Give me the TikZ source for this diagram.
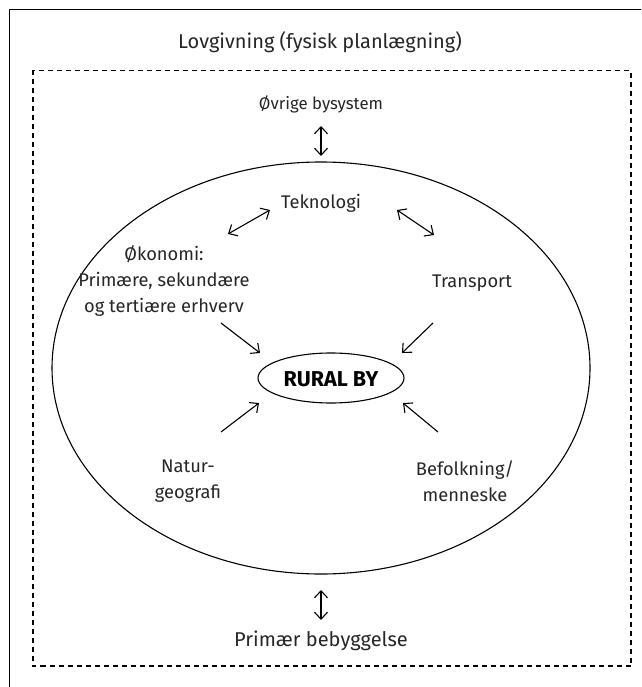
\documentclass[tikz,border=0pt]{standalone}
\usepackage{fontspec}
\setmainfont{Fira Sans}
\usetikzlibrary{arrows.meta,shapes.geometric}
\begin{document}
\begin{tikzpicture}[x=1pt,y=-1pt,
  every node/.style={inner sep=0pt, text=black!85, font=\fontsize{18.3}{26}\selectfont, align=center},
  big/.style={font=\fontsize{20}{24}\selectfont},
  mid/.style={font=\fontsize{16.8}{22}\selectfont},
  link/.style={line width=1.1pt, -{Straight Barb[length=7pt,width=13pt,line width=1.1pt]}},
  link2/.style={line width=1.1pt, {Straight Barb[length=7pt,width=13pt,line width=1.1pt]}-{Straight Barb[length=7pt,width=13pt,line width=1.1pt]}},
  frame/.style={line width=1.3pt},
  dframe/.style={line width=1.2pt, dash pattern=on 5pt off 4pt},
  ell/.style={draw, line width=1.1pt, ellipse, outer sep=0pt}]
\useasboundingbox (0,0) rectangle (641,687);
\begin{scope}
\clip (0,0) rectangle (641,687);
\draw[frame] (9.5,9.5) rectangle (680,720);
\end{scope}
\draw[dframe] (33,70.5) rectangle (631,666);

\node[big] (title) at (320,42) {Lovgivning (fysisk planlægning)};
\node[mid] (ovrige) at (321,104) {Øvrige bysystem};
\node[big] (primaer) at (321,641) {Primær bebyggelse};

\node[ell, minimum width=538pt, minimum height=412pt] (outerell) at (321,368) {};

\node[ell, minimum width=146pt, minimum height=50pt] (rural) at (331,378) {};
\node[font=\fontsize{21.5}{24}\selectfont\bfseries, text=black] (ruraltext) at (331,379) {RURAL BY};

\node (tek) at (321,203) {Teknologi};
\node (oko) at (164,281) {Økonomi:\\Primære, sekundære\\og tertiære erhverv};
\node (trans) at (472,283) {Transport};
\node (natur) at (188,481) {Natur-\\geografi};
\node (befolk) at (465,481) {Befolkning/\\menneske};

\coordinate (vt1) at (321,126);
\coordinate (vt2) at (321,156);
\coordinate (vb1) at (321,590);
\coordinate (vb2) at (321,620);
\draw[link2] (vt1) -- (vt2);
\draw[link2] (vb1) -- (vb2);

\coordinate (tl1) at (228,234);
\coordinate (tl2) at (270,210);
\coordinate (tr1) at (397,210);
\coordinate (tr2) at (434,235);
\draw[link2] (tl1) -- (tl2);
\draw[link2] (tr1) -- (tr2);

\coordinate (o1) at (221,323);
\coordinate (o2) at (260,353);
\coordinate (t1) at (433,323);
\coordinate (t2) at (402,353);
\coordinate (n1) at (221,432);
\coordinate (n2) at (259,403);
\coordinate (b1) at (438,432);
\coordinate (b2) at (403,403);
\draw[link] (o1) -- (o2);
\draw[link] (t1) -- (t2);
\draw[link] (n1) -- (n2);
\draw[link] (b1) -- (b2);
\end{tikzpicture}
\end{document}
